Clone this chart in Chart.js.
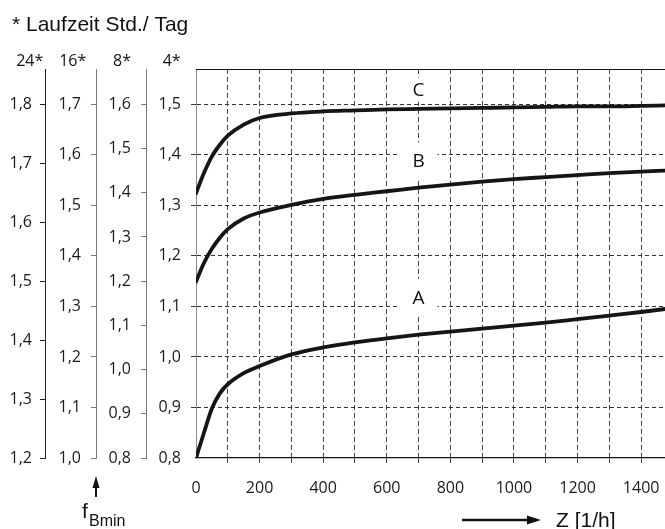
<!DOCTYPE html>
<html><head><meta charset="utf-8">
<script src="https://cdn.jsdelivr.net/npm/chart.js@4/dist/chart.umd.min.js"></script>
<style>html,body{margin:0;padding:0;background:#fff}#wrap{width:665px;height:529px;position:relative}</style>
</head><body><div id="wrap"><canvas id="c"></canvas></div>
<script>
// ---- data ----
const zValues = [0, 25, 50, 75, 100, 150, 200, 300, 400, 500, 600, 700, 800, 900, 1000, 1100, 1200, 1300, 1400, 1475];
const seriesA = [0.800, 0.850, 0.898, 0.928, 0.946, 0.968, 0.982, 1.005, 1.019, 1.029, 1.037, 1.044, 1.050, 1.056, 1.062, 1.068, 1.075, 1.082, 1.089, 1.095];
const seriesB = [1.149, 1.186, 1.214, 1.236, 1.253, 1.274, 1.286, 1.301, 1.313, 1.321, 1.328, 1.335, 1.341, 1.347, 1.352, 1.356, 1.360, 1.364, 1.367, 1.369];
const seriesC = [1.324, 1.364, 1.397, 1.420, 1.438, 1.460, 1.473, 1.482, 1.486, 1.488, 1.490, 1.491, 1.492, 1.493, 1.494, 1.495, 1.496, 1.496, 1.497, 1.498];
const curveLabels = ['A', 'B', 'C'];
const labelZ = 700;
const labelValues = [1.118, 1.388, 1.529];
const xTicks = [0, 100, 200, 300, 400, 500, 600, 700, 800, 900, 1000, 1100, 1200, 1300, 1400];
const ticks4 = [0.8, 0.9, 1.0, 1.1, 1.2, 1.3, 1.4, 1.5];
const ticks8 = [0.8, 0.9, 1.0, 1.1, 1.2, 1.3, 1.4, 1.5, 1.6];
const ticks16 = [1.0, 1.1, 1.2, 1.3, 1.4, 1.5, 1.6, 1.7];
const ticks24 = [1.2, 1.3, 1.4, 1.5, 1.6, 1.7, 1.8];
const axisHeaders = ['24*', '16*', '8*', '4*'];
const titleText = '* Laufzeit Std./ Tag';
const xTitle = 'Z [1/h]';
const fMain = 'f', fSub = 'Bmin';

// ---- chart ----
const TICK_FONT = {family: '"Open Sans", "Noto Sans", sans-serif', size: 16};
const fmt = v => Number(v).toFixed(1).replace('.', ',');
const setTicks = arr => axis => { axis.ticks = arr.map(v => ({value: v})); };

function sideAxis(min, max, arr, weight, width, color, pad) {
  return {
    type: 'linear', position: 'left', min, max, weight,
    afterBuildTicks: setTicks(arr),
    afterFit: s => { s.width = width; s.paddingTop = 0; s.paddingBottom = 0; },
    grid: {drawOnChartArea: false, drawTicks: true, tickLength: 5, color: color, lineWidth: 1},
    border: {display: true, color: color, width: 1},
    ticks: {font: TICK_FONT, color: '#1a1a1a', padding: pad, callback: fmt}
  };
}

const decor = {
  id: 'decor',
  beforeDatasetsDraw(chart) {
    const {ctx, chartArea: ca, scales} = chart;
    const x = scales.x, y = scales.y;
    ctx.save();
    ctx.strokeStyle = '#111'; ctx.lineWidth = 1.2;
    ctx.beginPath(); ctx.moveTo(ca.left, ca.top + 0.5); ctx.lineTo(ca.right, ca.top + 0.5); ctx.stroke();
    const boxes = [[38, 37], [38, 37], [20, 24]];
    ctx.font = '19px "Open Sans", sans-serif';
    ctx.textAlign = 'center'; ctx.textBaseline = 'middle';
    curveLabels.forEach((t, i) => {
      const px = x.getPixelForValue(labelZ), py = y.getPixelForValue(labelValues[i]);
      const [w, h] = boxes[i];
      ctx.fillStyle = '#fff'; ctx.fillRect(px - w / 2, py - h / 2, w, h);
      ctx.fillStyle = '#111'; ctx.fillText(t, px, py + 1);
    });
    ctx.restore();
  },
  afterDraw(chart) {
    const {ctx, scales} = chart;
    ctx.save();
    ctx.fillStyle = '#111';
    ctx.font = '21px "Liberation Sans", Arial, sans-serif';
    ctx.textAlign = 'left'; ctx.textBaseline = 'alphabetic';
    ctx.fillText(titleText, 12, 31);
    const ids = ['y24', 'y16', 'y8', 'y'];
    const offs = [15.3, 23.3, 24, 24.3];
    ctx.font = '16px "Open Sans", sans-serif';
    ctx.textAlign = 'center'; ctx.textBaseline = 'middle';
    ids.forEach((id, i) => ctx.fillText(axisHeaders[i], scales[id].right - offs[i], 61));
    ctx.strokeStyle = '#111'; ctx.lineWidth = 2.5;
    ctx.beginPath(); ctx.moveTo(462, 520); ctx.lineTo(530, 520); ctx.stroke();
    ctx.beginPath(); ctx.moveTo(527, 515.5); ctx.lineTo(541, 520); ctx.lineTo(527, 524.5); ctx.closePath(); ctx.fill();
    ctx.font = '21px "Liberation Sans", Arial, sans-serif';
    ctx.textAlign = 'left'; ctx.textBaseline = 'alphabetic';
    ctx.fillText(xTitle, 556, 527);
    const ax = scales.y16.right;
    ctx.lineWidth = 2;
    ctx.beginPath(); ctx.moveTo(ax, 497); ctx.lineTo(ax, 485); ctx.stroke();
    ctx.beginPath(); ctx.moveTo(ax - 3.5, 488); ctx.lineTo(ax, 476); ctx.lineTo(ax + 3.5, 488); ctx.closePath(); ctx.fill();
    ctx.font = '21px "Liberation Sans", Arial, sans-serif';
    ctx.fillText(fMain, 82, 518);
    ctx.font = '16px "Liberation Sans", Arial, sans-serif';
    ctx.fillText(fSub, 89, 526);
    ctx.restore();
  }
};

const mk = (arr) => zValues.map((z, i) => ({x: z, y: arr[i]}));
const lineDs = (label, arr) => ({
  label, data: mk(arr), yAxisID: 'y', borderColor: '#151515', borderWidth: 3.8,
  pointRadius: 0, cubicInterpolationMode: 'monotone', fill: false, borderCapStyle: 'round'
});

new Chart(document.getElementById('c'), {
  type: 'line',
  data: {datasets: [lineDs('A', seriesA), lineDs('B', seriesB), lineDs('C', seriesC)]},
  options: {
    responsive: true, maintainAspectRatio: false, animation: false,
    layout: {padding: {left: 0, right: 0, top: 69, bottom: 0}},
    plugins: {legend: {display: false}, title: {display: false}, tooltip: {enabled: false}},
    scales: {
      x: {
        type: 'linear', position: 'bottom', min: 0, max: 1475,
        afterBuildTicks: setTicks(xTicks),
        afterFit: s => { s.height = 71; s.paddingLeft = 0; s.paddingRight = 0; },
        grid: {color: c => (c.tick && c.tick.value === 0) ? 'rgba(0,0,0,0)' : '#444', lineWidth: 1, tickLength: 5},
        border: {display: true, color: '#111', width: 1.2, dash: [5, 3]},
        ticks: {font: TICK_FONT, color: '#1a1a1a', padding: 16, maxRotation: 0, autoSkip: false,
          callback: v => (v % 200 === 0 ? String(v) : '')}
      },
      y: {
        type: 'linear', position: 'left', min: 0.8, max: 1.57, weight: 1,
        afterBuildTicks: setTicks(ticks4),
        afterFit: s => { s.width = 50; s.paddingTop = 0; s.paddingBottom = 0; },
        grid: {color: c => (c.tick && c.tick.value === 0.8) ? 'rgba(0,0,0,0)' : '#333', lineWidth: 1, tickLength: 5},
        border: {display: true, color: '#888', width: 1, dash: [4, 3]},
        ticks: {font: TICK_FONT, color: '#1a1a1a', padding: 10, callback: fmt}
      },
      y8: sideAxis(0.8, 1.680, ticks8, 2, 50, '#777', 10),
      y16: sideAxis(1.0, 1.770, ticks16, 3, 51, '#777', 10),
      y24: sideAxis(1.2, 1.860, ticks24, 4, 45, '#222', 8)
    }
  },
  plugins: [decor]
});
</script>
</body></html>
